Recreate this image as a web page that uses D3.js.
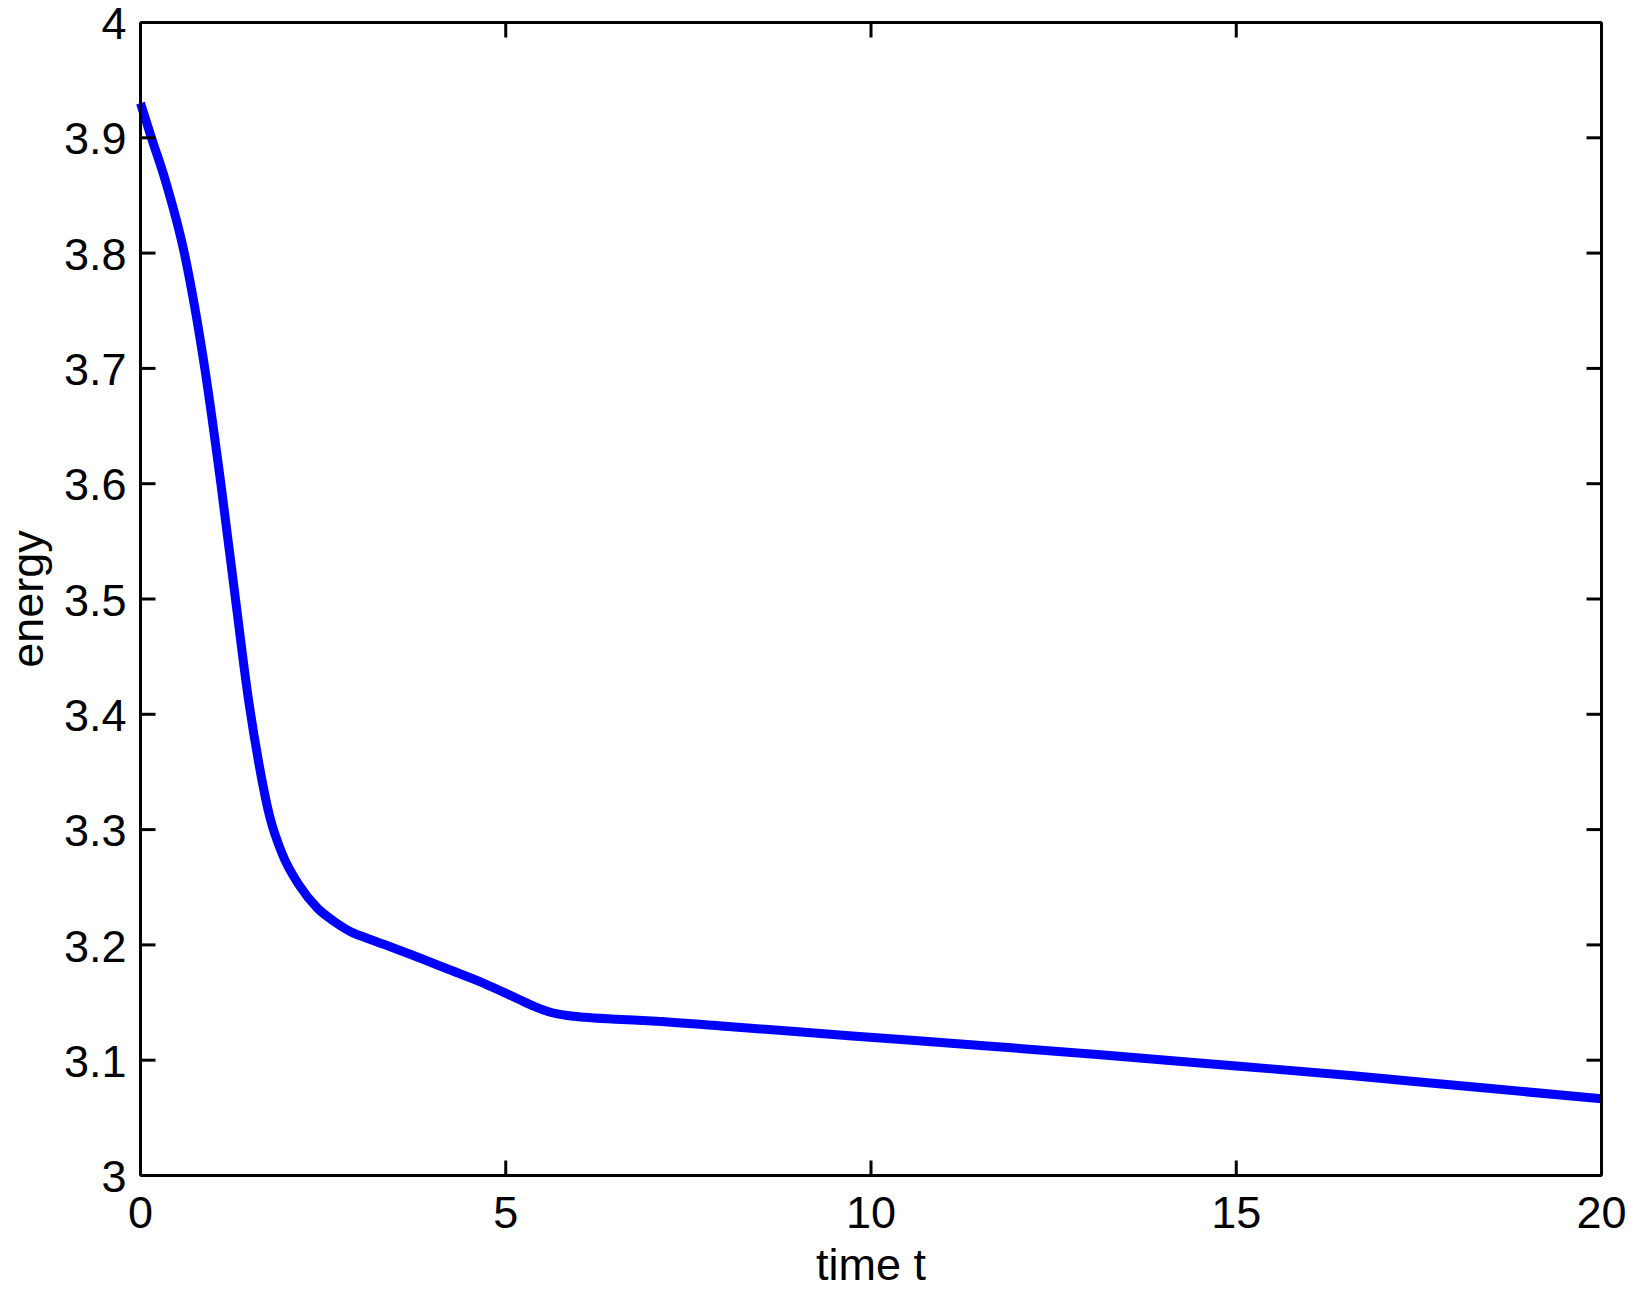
<!DOCTYPE html>
<html>
<head>
<meta charset="utf-8">
<script src="https://cdn.jsdelivr.net/npm/d3@7"></script>
<style>
  html, body { margin: 0; padding: 0; background: #fff; }
  svg { display: block; }
  text { font-family: "Liberation Sans", Arial, Helvetica, sans-serif; fill: #000; }
</style>
</head>
<body>
<script>
// ---- data ----
const timeT = [0, 0.15, 0.34, 0.6, 0.88, 1.1, 1.3, 1.48, 1.63, 1.77, 1.94, 2.17, 2.42, 2.64, 2.87, 3.1, 3.33, 3.79, 4.24, 4.7, 5.16, 5.39, 5.61, 5.84, 6.07, 6.5, 7, 8, 9.7, 11.5, 13.1, 15, 16.6, 18.3, 20];
const energy = [3.930, 3.900, 3.863, 3.800, 3.700, 3.600, 3.500, 3.412, 3.354, 3.311, 3.279, 3.252, 3.232, 3.2209, 3.2117, 3.2058, 3.2005, 3.1895, 3.1782, 3.1667, 3.1534, 3.1467, 3.1416, 3.1388, 3.1373, 3.1356, 3.1340, 3.1295, 3.1212, 3.1128, 3.105, 3.095, 3.0865, 3.0765, 3.0665];
const xTicks = [0, 5, 10, 15, 20];
const xTickLabels = ["0", "5", "10", "15", "20"];
const yTicks = [3, 3.1, 3.2, 3.3, 3.4, 3.5, 3.6, 3.7, 3.8, 3.9, 4];
const yTickLabels = ["3", "3.1", "3.2", "3.3", "3.4", "3.5", "3.6", "3.7", "3.8", "3.9", "4"];
const xLabel = "time t";
const yLabel = "energy";

const W = 1630, H = 1297;
const mLeft = 140.5, mRight = 1601.5, mTop = 22.5, mBottom = 1175.5;
const fontSize = 45;

const svg = d3.select("body").append("svg").attr("width", W).attr("height", H);

const x = d3.scaleLinear().domain([0, 20]).range([mLeft, mRight]);
const y = d3.scaleLinear().domain([3, 4]).range([mBottom, mTop]);

const data = timeT.map((t, i) => ({ t, e: energy[i] }));

// line
svg.append("path")
  .datum(data)
  .attr("fill", "none")
  .attr("stroke", "#0000ff")
  .attr("stroke-width", 9)
  .attr("stroke-linejoin", "round")
  .attr("d", d3.line().x(d => x(d.t)).y(d => y(d.e)).curve(d3.curveMonotoneX));

function styleAxis(g) {
  g.selectAll("path.domain").attr("stroke", "#000").attr("stroke-width", 3);
  g.selectAll(".tick line").attr("stroke", "#000").attr("stroke-width", 3);
  g.selectAll(".tick text").attr("font-size", fontSize).attr("fill", "#000")
    .style("font-family", "'Liberation Sans', Arial, Helvetica, sans-serif");
}

// bottom axis
svg.append("g").attr("transform", `translate(0,${mBottom})`)
  .call(d3.axisBottom(x).tickValues(xTicks).tickFormat((d, i) => xTickLabels[i])
    .tickSizeInner(-15).tickSizeOuter(0).tickPadding(21).offset(0))
  .call(styleAxis);
// top axis
svg.append("g").attr("transform", `translate(0,${mTop})`)
  .call(d3.axisTop(x).tickValues(xTicks).tickFormat("")
    .tickSizeInner(-15).tickSizeOuter(0).offset(0))
  .call(styleAxis);
// left axis
svg.append("g").attr("transform", `translate(${mLeft},0)`)
  .call(d3.axisLeft(y).tickValues(yTicks).tickFormat((d, i) => yTickLabels[i])
    .tickSizeInner(-15).tickSizeOuter(0).tickPadding(14).offset(0))
  .call(styleAxis)
  .call(g => g.selectAll(".tick text").attr("dy", "0.37em"));
// right axis
svg.append("g").attr("transform", `translate(${mRight},0)`)
  .call(d3.axisRight(y).tickValues(yTicks).tickFormat("")
    .tickSizeInner(-15).tickSizeOuter(0).offset(0))
  .call(styleAxis);

// axis labels
svg.append("text")
  .attr("x", (mLeft + mRight) / 2).attr("y", 1280)
  .attr("text-anchor", "middle").attr("font-size", fontSize)
  .text(xLabel);
svg.append("text")
  .attr("transform", `translate(43,${(mTop + mBottom) / 2}) rotate(-90)`)
  .attr("text-anchor", "middle").attr("font-size", fontSize)
  .text(yLabel);
</script>
</body>
</html>
